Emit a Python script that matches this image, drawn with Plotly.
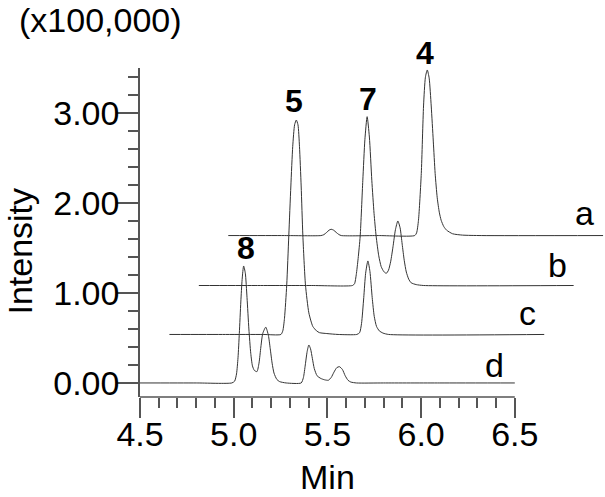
import plotly.graph_objects as go

# ---- data (intensity in units of 100,000; time in min) ----
trace_names = ["a", "b", "c", "d"]
x_shift = [0.471, 0.314, 0.157, 0.0]      # display offset of each stacked trace (min)
y_shift = [1.638, 1.083, 0.539, 0.0]      # baseline offset of each stacked trace

t_a = [4.50, 4.80, 4.995, 5.010, 5.025, 5.038, 5.049, 5.062, 5.076, 5.090, 5.103, 5.30,
       5.495, 5.505, 5.515, 5.530, 5.542, 5.552, 5.562, 5.572, 5.583, 5.594, 5.604, 5.615,
       5.626, 5.636, 5.650, 5.665, 5.697, 5.75, 5.85, 6.50]
i_a = [0, 0, 0, 0.01, 0.035, 0.06, 0.07, 0.06, 0.035, 0.012, 0, 0,
       0, 0.03, 0.17, 0.69, 1.44, 1.76, 1.84, 1.75, 1.44, 1.05, 0.69, 0.42,
       0.26, 0.17, 0.10, 0.06, 0.02, 0.005, 0, 0]

t_b = [4.50, 4.80, 5.10, 5.32, 5.331, 5.340, 5.350, 5.361, 5.375, 5.386, 5.398, 5.410,
       5.423, 5.435, 5.446, 5.460, 5.473, 5.487, 5.500, 5.512, 5.524, 5.536, 5.549, 5.562,
       5.574, 5.585, 5.596, 5.607, 5.620, 5.633, 5.66, 5.70, 6.50]
i_b = [0, 0, 0, 0, 0.02, 0.12, 0.30, 0.55, 1.17, 1.62, 1.876, 1.65,
       1.17, 0.80, 0.55, 0.33, 0.21, 0.155, 0.135, 0.17, 0.27, 0.43, 0.62, 0.717,
       0.64, 0.46, 0.28, 0.15, 0.07, 0.03, 0.01, 0, 0]

t_c = [4.50, 4.80, 5.00, 5.095, 5.105, 5.114, 5.126, 5.137, 5.148, 5.158, 5.168, 5.177,
       5.186, 5.194, 5.203, 5.212, 5.226, 5.244, 5.265, 5.285, 5.301, 5.34, 5.40,
       5.50, 5.515, 5.525, 5.537, 5.547, 5.559, 5.570, 5.582, 5.593, 5.605, 5.62, 5.64,
       5.67, 6.50]
i_c = [0, 0, 0, 0, 0.04, 0.18, 0.55, 1.10, 1.65, 2.09, 2.33, 2.383,
       2.33, 2.09, 1.65, 1.10, 0.55, 0.24, 0.09, 0.04, 0.02, 0.01, 0,
       0, 0.02, 0.12, 0.41, 0.68, 0.817, 0.70, 0.41, 0.20, 0.09, 0.04, 0.015,
       0, 0]

t_d = [4.50, 4.80, 4.99, 5.005, 5.015, 5.023, 5.030, 5.038, 5.045, 5.053, 5.062, 5.071,
       5.081, 5.091, 5.100, 5.110, 5.124, 5.135, 5.145, 5.155, 5.171, 5.185, 5.195, 5.205,
       5.215, 5.230, 5.245, 5.28, 5.36, 5.372, 5.382, 5.392, 5.401, 5.410, 5.420, 5.430,
       5.445, 5.465, 5.485, 5.505, 5.520, 5.535, 5.550, 5.564, 5.580, 5.595, 5.610, 5.625,
       5.655, 5.80, 6.10, 6.50]
i_d = [0, 0, 0, 0.02, 0.10, 0.28, 0.55, 0.90, 1.15, 1.30, 1.22, 0.95,
       0.60, 0.33, 0.19, 0.14, 0.126, 0.22, 0.40, 0.55, 0.62, 0.53, 0.38, 0.22,
       0.11, 0.04, 0.015, 0, 0, 0.06, 0.20, 0.35, 0.422, 0.38, 0.27, 0.16,
       0.08, 0.05, 0.035, 0.03, 0.06, 0.12, 0.17, 0.181, 0.15, 0.08, 0.03, 0.01,
       0, 0, 0, 0]

times = [t_a, t_b, t_c, t_d]
intens = [i_a, i_b, i_c, i_d]

# trace letter labels (display coords)
label_x = [6.871, 6.727, 6.567, 6.391]
label_y = [1.889, 1.311, 0.778, 0.200]

# peak numbers (display coords)
peak_labels = ["8", "5", "7", "4"]
peak_x = [5.067, 5.324, 5.717, 6.023]
peak_y = [1.50, 3.128, 3.161, 3.667]

x_ticks = [4.5, 5.0, 5.5, 6.0, 6.5]
x_minor = [4.6, 4.7, 4.8, 4.9, 5.1, 5.2, 5.3, 5.4, 5.6, 5.7, 5.8, 5.9, 6.1, 6.2, 6.3, 6.4]
y_ticks = [0, 1, 2, 3]
y_minor = [0.2, 0.4, 0.6, 0.8, 1.2, 1.4, 1.6, 1.8, 2.2, 2.4, 2.6, 2.8, 3.2, 3.4]
Y_RANGE = [-0.156, 3.5]

FONT = "Liberation Sans, Arial, sans-serif"
AX = "#555555"

fig = go.Figure()
for name, t, h, dx, dy in zip(trace_names, times, intens, x_shift, y_shift):
    fig.add_trace(go.Scatter(
        x=[v + dx for v in t], y=[v + dy for v in h], mode="lines", name=name,
        line=dict(color="#333333", width=1, shape="spline", smoothing=0.6),
        showlegend=False, hoverinfo="skip"))

for txt, x, y in zip(trace_names, label_x, label_y):
    fig.add_annotation(x=x, y=y, xref="x", yref="y", text=txt, showarrow=False,
                       font=dict(family=FONT, size=34, color="black"),
                       xanchor="center", yanchor="middle")

for txt, x, y in zip(peak_labels, peak_x, peak_y):
    fig.add_annotation(x=x, y=(y - Y_RANGE[0]) / (Y_RANGE[1] - Y_RANGE[0]),
                       xref="x", yref="paper", text="<b>%s</b>" % txt, showarrow=False,
                       font=dict(family=FONT, size=32, color="black"),
                       xanchor="center", yanchor="middle")

# x axis line only spanning the tick range
fig.add_shape(type="line", xref="x", yref="paper", x0=min(x_ticks), x1=max(x_ticks),
              y0=0, y1=0, line=dict(color=AX, width=1.5))

fig.add_annotation(x=5.5, y=-0.243, xref="x", yref="paper", text="Min", showarrow=False,
                   font=dict(family=FONT, size=34, color="black"), xanchor="center", yanchor="middle",
                   borderpad=0)
fig.add_annotation(x=-0.259, y=0.4438, xref="paper", yref="paper", text="Intensity", showarrow=False,
                   textangle=-90, font=dict(family=FONT, size=34, color="black"),
                   xanchor="center", yanchor="middle", borderpad=0)
fig.add_annotation(x=-0.086, y=1.146, xref="paper", yref="paper", text="(x100,000)", showarrow=False,
                   font=dict(family=FONT, size=34, color="black"), xanchor="center", yanchor="middle",
                   borderpad=0)

fig.update_layout(
    width=605, height=497, margin=dict(l=140, r=0, t=68, b=100, autoexpand=False),
    plot_bgcolor="white", paper_bgcolor="white",
    xaxis=dict(range=[4.5, 4.5 + 465 / 187.4], showline=False, showgrid=False, zeroline=False,
               tickmode="array", tickvals=x_ticks, ticktext=["%.1f" % v for v in x_ticks],
               ticks="outside", ticklen=20, tickwidth=1.5, tickcolor=AX, ticklabelstandoff=-13,
               minor=dict(tickmode="array", tickvals=x_minor, ticks="outside", ticklen=10,
                          tickwidth=1.5, tickcolor=AX, showgrid=False),
               tickfont=dict(family=FONT, size=34, color="black")),
    yaxis=dict(range=Y_RANGE, showline=True, linecolor=AX, linewidth=1.5,
               showgrid=False, zeroline=False,
               tickmode="array", tickvals=y_ticks, ticktext=["%.2f" % v for v in y_ticks],
               ticks="outside", ticklen=21, tickwidth=1.5, tickcolor=AX, ticklabelstandoff=-9,
               minor=dict(tickmode="array", tickvals=y_minor, ticks="outside", ticklen=10,
                          tickwidth=1.5, tickcolor=AX, showgrid=False),
               tickfont=dict(family=FONT, size=34, color="black")),
)

fig.write_html("out.html", config={"displayModeBar": False},
               post_script="document.body.style.margin='0';")
